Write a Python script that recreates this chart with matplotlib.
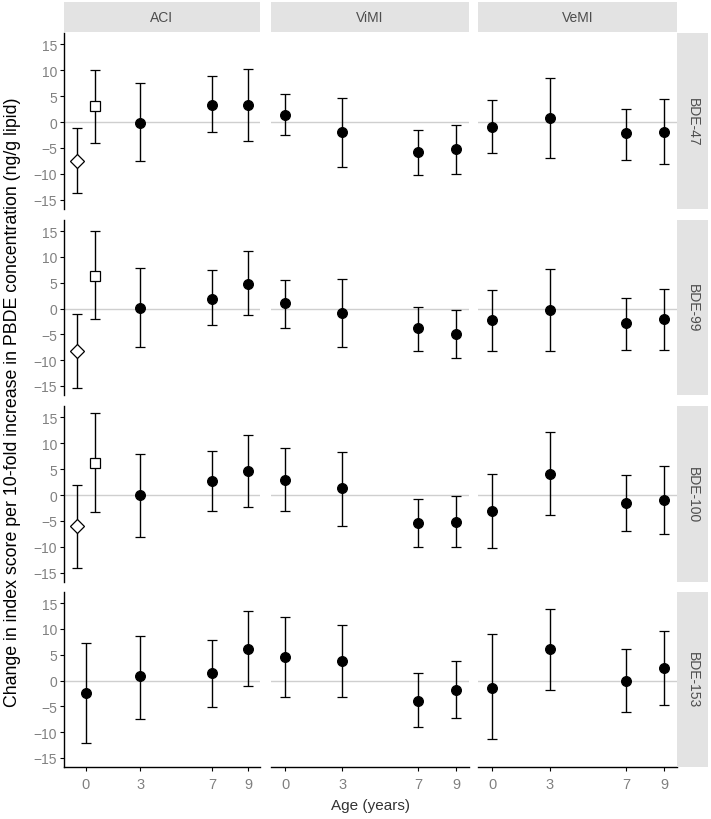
import matplotlib
matplotlib.use("Agg")
import matplotlib.pyplot as plt
from matplotlib.patches import Rectangle

plt.rcParams["font.family"] = ["Liberation Sans", "DejaVu Sans"]

# =====================================================
# Data
# =====================================================
ages = [0, 3, 7, 9]
outcomes = ["ACI", "ViMI", "VeMI"]
congeners = ["BDE-47", "BDE-99", "BDE-100", "BDE-153"]

# estimate / lower / upper per congener, one row per outcome, cols = ages
# None means no filled point at that age
est_bde47 = [[None, -0.1, 3.3, 3.2], [1.35, -2.0, -5.8, -5.1], [-1.0, 0.8, -2.2, -2.0]]
lo_bde47 = [[None, -7.6, -1.9, -3.7], [-2.5, -8.7, -10.2, -10.0], [-5.9, -6.9, -7.4, -8.1]]
hi_bde47 = [[None, 7.5, 8.9, 10.3], [5.4, 4.7, -1.5, -0.5], [4.2, 8.5, 2.6, 4.5]]

est_bde99 = [[None, 0.1, 1.9, 4.8], [1.0, -0.8, -3.85, -4.9], [-2.3, -0.25, -2.8, -2.05]]
lo_bde99 = [[None, -7.5, -3.1, -1.3], [-3.85, -7.4, -8.2, -9.5], [-8.2, -8.2, -7.95, -7.95]]
hi_bde99 = [[None, 7.9, 7.4, 11.2], [5.6, 5.8, 0.25, -0.25], [3.6, 7.6, 2.05, 3.85]]

est_bde100 = [[None, 0.0, 2.8, 4.6], [2.9, 1.35, -5.4, -5.1], [-3.1, 4.1, -1.55, -1.0]]
lo_bde100 = [[None, -8.0, -3.1, -2.25], [-3.1, -5.9, -10.0, -10.0], [-10.25, -3.85, -6.9, -7.45]]
hi_bde100 = [[None, 7.9, 8.5, 11.5], [9.0, 8.3, -0.7, -0.25], [4.1, 12.05, 3.85, 5.65]]

est_bde153 = [[-2.4, 0.8, 1.5, 6.2], [4.6, 3.8, -3.9, -1.8], [-1.35, 6.1, 0.0, 2.5]]
lo_bde153 = [[-12.1, -7.4, -5.1, -1.0], [-3.1, -3.1, -9.0, -7.2], [-11.3, -1.8, -6.15, -4.7]]
hi_bde153 = [[7.2, 8.7, 7.9, 13.4], [12.25, 10.8, 1.5, 3.85], [9.0, 13.8, 6.1, 9.5]]

# ACI at age 0, two open markers (BDE-47, BDE-99, BDE-100)
aci0_diamond_est = [-7.6, -8.3, -6.0]
aci0_diamond_lo = [-13.7, -15.4, -14.1]
aci0_diamond_hi = [-1.2, -1.15, 2.0]
aci0_square_est = [3.1, 6.3, 6.15]
aci0_square_lo = [-4.0, -2.1, -3.3]
aci0_square_hi = [10.0, 15.0, 15.8]

est_all = [est_bde47, est_bde99, est_bde100, est_bde153]
lo_all = [lo_bde47, lo_bde99, lo_bde100, lo_bde153]
hi_all = [hi_bde47, hi_bde99, hi_bde100, hi_bde153]

# =====================================================
# Layout (pixels)
# =====================================================
W, H = 711, 820
fig = plt.figure(figsize=(W / 100, H / 100), dpi=100)

col_x = [(64, 260), (271, 469), (478, 677)]
row_y = [(34, 210), (221, 396), (407, 583), (593, 768)]
strip_top = (3, 33)
strip_right = (677, 708)

STRIP = "#e3e3e3"
TICK = "#808080"


def px_axes(x0, x1, y0, y1):
    return fig.add_axes([x0 / W, 1 - y1 / H, (x1 - x0) / W, (y1 - y0) / H])


def errbar(ax, x, y, lo, hi, marker, face):
    ax.errorbar(
        [x], [y],
        yerr=[[y - lo], [hi - y]],
        fmt=marker,
        color="black",
        mfc=face,
        mec="black",
        ms=7 if marker == "o" else 7.5,
        mew=0.9,
        elinewidth=1.0,
        capsize=3.6,
        capthick=1.0,
        zorder=3
    )


for r, cong in enumerate(congeners):
    for c, outc in enumerate(outcomes):
        x0, x1 = col_x[c]
        y0, y1 = row_y[r]
        ax = px_axes(x0, x1, y0, y1)

        ax.axhline(0, color="#cfcfcf", lw=1.0, zorder=1)

        for i, age in enumerate(ages):
            e = est_all[r][c][i]
            if e is None:
                continue
            errbar(ax, age, e, lo_all[r][c][i], hi_all[r][c][i], "o", "black")

        if c == 0 and r < 3:
            errbar(ax, -0.5, aci0_diamond_est[r], aci0_diamond_lo[r],
                   aci0_diamond_hi[r], "D", "white")
            errbar(ax, 0.5, aci0_square_est[r], aci0_square_lo[r],
                   aci0_square_hi[r], "s", "white")

        if c == 0:
            ax.set_xlim(-1.22, 9.65)
        else:
            ax.set_xlim(-0.75, 9.68)
        ax.set_ylim(-16.75, 17.15)

        for s in ax.spines.values():
            s.set_visible(False)

        ax.set_yticks([-15, -10, -5, 0, 5, 10, 15])
        ax.set_xticks(ages)
        ax.tick_params(colors="black", labelcolor=TICK, labelsize=10,
                       length=3, width=0.8, pad=2)

        if c == 0:
            ax.spines["left"].set_visible(True)
            ax.spines["left"].set_color("black")
            ax.spines["left"].set_linewidth(1.0)
        else:
            ax.tick_params(axis="y", left=False, labelleft=False)

        if r == 3:
            ax.spines["bottom"].set_visible(True)
            ax.spines["bottom"].set_color("black")
            ax.spines["bottom"].set_linewidth(1.0)
            ax.tick_params(axis="x", labelsize=10.5, pad=4)
        else:
            ax.tick_params(axis="x", bottom=False, labelbottom=False)

        # column strip
        if r == 0:
            sax = px_axes(x0, x1, strip_top[0], strip_top[1])
            sax.set_axis_off()
            sax.add_patch(Rectangle((0, 0), 1, 1, transform=sax.transAxes,
                                    color=STRIP, lw=0))
            sax.text(0.5, 0.5, outc, ha="center", va="center",
                     fontsize=10, color="#4d4d4d", transform=sax.transAxes)

        # row strip
        if c == 2:
            rax = px_axes(strip_right[0], strip_right[1], y0, y1)
            rax.set_axis_off()
            rax.add_patch(Rectangle((0, 0), 1, 1, transform=rax.transAxes,
                                    color=STRIP, lw=0))
            rax.text(0.5, 0.5, cong, ha="center", va="center", rotation=-90,
                     fontsize=10, color="#4d4d4d", transform=rax.transAxes)

fig.text(13 / W, 1 - 402 / H,
         "Change in index score per 10-fold increase in PBDE concentration (ng/g lipid)",
         rotation=90, ha="center", va="center", fontsize=12.8, color="black")
fig.text(370 / W, 1 - 806 / H, "Age (years)", ha="center", va="center",
         fontsize=11, color="#333333")

fig.savefig("out.png", dpi=100)
